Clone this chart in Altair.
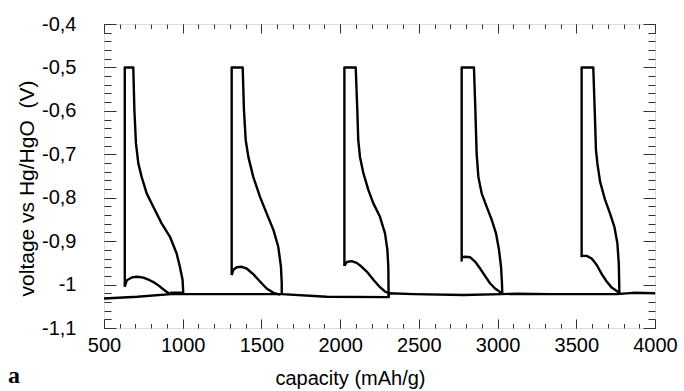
import altair as alt
import pandas as pd

# ---------------- axis ticks / labels ----------------
X_MAJOR = [500, 1000, 1500, 2000, 2500, 3000, 3500, 4000]
X_MINOR = list(range(500, 4001, 100))
Y_MAJOR = [-1.1, -1.0, -0.9, -0.8, -0.7, -0.6, -0.5, -0.4]
Y_MINOR = [round(-1.1 + 0.02 * i, 2) for i in range(36)]

# ---------------- data ----------------
base_cap = [500, 712, 924, 1199, 1364, 1629, 1915, 2308, 2310, 2465, 2783, 3026, 3122, 3333, 3757, 3862, 4000]
base_v = [-1.032, -1.028, -1.022, -1.022, -1.022, -1.022, -1.028, -1.029, -1.020, -1.022, -1.024, -1.022, -1.021, -1.022, -1.022, -1.019, -1.020]

c1_cap = [632, 632, 686, 693, 703, 718, 739, 771, 813, 866, 919, 961, 982, 999, 1003, 1003, 924, 918]
c1_v = [-1.005, -0.5, -0.5, -0.598, -0.675, -0.721, -0.752, -0.790, -0.821, -0.859, -0.890, -0.928, -0.959, -0.989, -1.016, -1.019, -1.019, -1.022]
h1_cap = [632, 645, 680, 712, 750, 790, 818, 850, 870, 895, 913]
h1_v = [-1.005, -0.990, -0.983, -0.982, -0.984, -0.990, -0.995, -1.003, -1.009, -1.016, -1.020]

c2_cap = [1311, 1311, 1381, 1389, 1400, 1417, 1448, 1491, 1533, 1576, 1607, 1624, 1629, 1629]
c2_v = [-0.978, -0.5, -0.5, -0.598, -0.667, -0.706, -0.752, -0.798, -0.836, -0.874, -0.913, -0.959, -0.997, -1.024]
h2_cap = [1311, 1322, 1343, 1375, 1406, 1448, 1491, 1533, 1576, 1618]
h2_v = [-0.978, -0.966, -0.960, -0.959, -0.963, -0.976, -0.993, -1.009, -1.019, -1.023]

c3_cap = [2027, 2027, 2099, 2109, 2115, 2126, 2148, 2179, 2211, 2253, 2285, 2300, 2306, 2308]
c3_v = [-0.957, -0.5, -0.5, -0.598, -0.667, -0.706, -0.744, -0.782, -0.813, -0.844, -0.882, -0.920, -0.959, -1.030]
h3_cap = [2027, 2042, 2073, 2105, 2137, 2169, 2211, 2253, 2285, 2308]
h3_v = [-0.957, -0.948, -0.946, -0.950, -0.959, -0.970, -0.989, -1.006, -1.016, -1.020]

c4_cap = [2772, 2772, 2850, 2859, 2867, 2878, 2899, 2931, 2963, 2990, 3009, 3022, 3028, 3030]
c4_v = [-0.947, -0.5, -0.5, -0.598, -0.698, -0.752, -0.790, -0.821, -0.851, -0.882, -0.920, -0.959, -0.997, -1.024]
h4_cap = [2772, 2793, 2825, 2857, 2889, 2920, 2952, 2984, 3016, 3030]
h4_v = [-0.937, -0.936, -0.937, -0.947, -0.963, -0.980, -0.997, -1.009, -1.017, -1.020]

c5_cap = [3534, 3534, 3608, 3617, 3625, 3634, 3651, 3683, 3714, 3742, 3761, 3770, 3774]
c5_v = [-0.937, -0.5, -0.5, -0.598, -0.690, -0.721, -0.763, -0.805, -0.836, -0.867, -0.905, -0.951, -1.024]
h5_cap = [3534, 3566, 3598, 3630, 3662, 3693, 3725, 3757, 3774]
h5_v = [-0.934, -0.934, -0.940, -0.955, -0.976, -0.993, -1.007, -1.015, -1.018]

segments = [
    ("base", base_cap, base_v),
    ("c1", c1_cap, c1_v), ("h1", h1_cap, h1_v),
    ("c2", c2_cap, c2_v), ("h2", h2_cap, h2_v),
    ("c3", c3_cap, c3_v), ("h3", h3_cap, h3_v),
    ("c4", c4_cap, c4_v), ("h4", h4_cap, h4_v),
    ("c5", c5_cap, c5_v), ("h5", h5_cap, h5_v),
]
rows = []
for name, caps, vs in segments:
    for i, (c, v) in enumerate(zip(caps, vs)):
        rows.append({"cap": c, "volt": v, "seg": name, "ord": i})
df = pd.DataFrame(rows)

W, H = 551, 304
FONT = "Liberation Sans"
xs = alt.Scale(domain=[500, 4000], nice=False, zero=False)
ys = alt.Scale(domain=[-1.1, -0.4], nice=False, zero=False)


def tick_axis(orient, values, size):
    return alt.Axis(orient=orient, values=values, tickSize={"expr": str(-size)},
                    labels=False, domain=False, grid=False, title="",
                    tickColor="#333", tickWidth=1)


main_x = alt.Axis(orient="bottom", values=X_MAJOR, tickSize={"expr": "-9"},
                  labelPadding=16, labelFlush=False, labelFont=FONT, labelFontSize=20,
                  labelColor="black", labelExpr="'' + datum.value",
                  domain=False, grid=False, tickColor="#333", tickWidth=1,
                  title="capacity (mAh/g)", titleFont=FONT, titleFontSize=20,
                  titleFontWeight="normal", titleColor="black",
                  titleX=246, titleY=56, titleBaseline="alphabetic")
main_y = alt.Axis(orient="left", values=Y_MAJOR, tickSize={"expr": "-12"},
                  labelPadding=40, labelFlush=False, labelFont=FONT, labelFontSize=20,
                  labelColor="black",
                  labelExpr="replace('' + round(datum.value * 10) / 10, '.', ',')",
                  domain=False, grid=False, tickColor="#333", tickWidth=1,
                  title="voltage vs Hg/HgO\u00a0\u00a0(V)", titleFont=FONT, titleFontSize=21,
                  titleFontWeight="normal", titleColor="black",
                  titleX=-71, titleY=164, titleBaseline="alphabetic", titleAngle=-90)

lines = alt.Chart(df).mark_line(color="black", strokeWidth=2.4, strokeJoin="round").encode(
    x=alt.X("cap:Q", scale=xs, axis=main_x),
    y=alt.Y("volt:Q", scale=ys, axis=main_y),
    detail="seg:N",
    order="ord:Q",
)

base_df = df[df.seg == "base"]


def ghost(xa, ya):
    return alt.Chart(base_df).mark_line(opacity=0).encode(
        x=alt.X("cap:Q", scale=xs, axis=xa),
        y=alt.Y("volt:Q", scale=ys, axis=ya),
        order="ord:Q",
    )


g1 = ghost(tick_axis("bottom", X_MINOR, 4.5), tick_axis("left", Y_MINOR, 7))
g2 = ghost(tick_axis("top", X_MAJOR, 9), tick_axis("right", Y_MAJOR, 12))
g3 = ghost(tick_axis("top", X_MINOR, 4.5), tick_axis("right", Y_MINOR, 7))

label_df = pd.DataFrame({"t": ["a"]})
panel_label = alt.Chart(label_df).mark_text(
    font="Liberation Serif", fontWeight="bold", fontSize=24, align="left",
    baseline="alphabetic", color="black"
).encode(x=alt.value(-96), y=alt.value(359), text="t:N")

chart = alt.layer(lines, g1, g2, g3, panel_label).resolve_axis(
    x="independent", y="independent"
).properties(
    width=W, height=H,
    autosize=alt.AutoSizeParams(type="none"),
    padding={"left": 104, "top": 24, "right": 29, "bottom": 63},
).configure_view(stroke="#222", strokeWidth=1.2).configure(background="white")

chart.save("out.html", embed_options={"renderer": "svg", "actions": False})
